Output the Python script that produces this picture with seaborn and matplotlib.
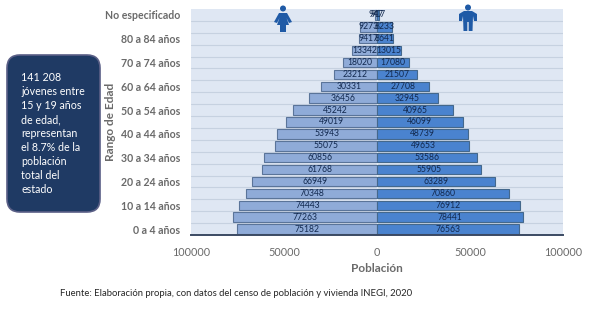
import matplotlib
matplotlib.use('Agg')
import matplotlib.pyplot as plt
from matplotlib.patches import Circle, FancyBboxPatch, Polygon
import numpy as np
import pandas as pd
import seaborn as sns

# top row of the chart first
age_groups = [
    'No especificado', '85 años y más', '80 a 84 años', '75 a 79 años',
    '70 a 74 años', '65 a 69 años', '60 a 64 años', '55 a 59 años',
    '50 a 54 años', '45 a 49 años', '40 a 44 años', '35 a 39 años',
    '30 a 34 años', '25 a 29 años', '20 a 24 años', '15 a 19 años',
    '10 a 14 años', '5 a 9 años', '0 a 4 años',
]
mujeres = [947, 9273, 9417, 13342, 18020, 23212, 30331, 36456, 45242, 49019,
           53943, 55075, 60856, 61768, 66949, 70348, 74443, 77263, 75182]
hombres = [917, 8233, 8641, 13015, 17080, 21507, 27708, 32945, 40965, 46099,
           48739, 49653, 53586, 55905, 63289, 70860, 76912, 78441, 76563]
x_ticks = [-100000, -50000, 0, 50000, 100000]

note_lines = ['141 208', 'jóvenes entre', '15 y 19 años', 'de edad,',
              'representan', 'el 8.7% de la', 'población', 'total del', 'estado']
source = 'Fuente: Elaboración propia, con datos del censo de población y vivienda INEGI, 2020'

W, H = 589, 316
GRAY = '#6a6a6a'
NAVY = '#1f3a64'
ICON = '#1f5aa6'

sns.set_theme(style='white')
plt.rcParams['font.family'] = ['Lato', 'DejaVu Sans']

fig = plt.figure(figsize=(W / 100, H / 100), dpi=100, facecolor='white')
ax = fig.add_axes([191 / W, 1 - 235 / H, 372 / W, 226 / H], facecolor='#dfe7f3')

df = pd.DataFrame({'edad': age_groups, 'mujeres': mujeres, 'hombres': hombres})
df['mujeres_neg'] = -df['mujeres']

# row separators sit behind the bars
for y in np.arange(len(age_groups) - 1) + 0.5:
    ax.axhline(y, color='#c6d1e0', lw=0.8, zorder=0)

sns.barplot(data=df, y='edad', x='mujeres_neg', order=age_groups, color='#8fabd8',
            saturation=1, width=0.8, edgecolor='#5a7499', linewidth=0.8, ax=ax, zorder=2)
sns.barplot(data=df, y='edad', x='hombres', order=age_groups, color='#4a83cf',
            saturation=1, width=0.8, edgecolor='#44688c', linewidth=0.8, ax=ax, zorder=2)

for container, values in zip(ax.containers, [mujeres, hombres]):
    ax.bar_label(container, labels=[str(v) for v in values], label_type='center',
                 fontsize=6.2, color='#12294f', zorder=3)

ax.axvline(0, color='#eef3f9', lw=1.0, zorder=1)
ax.set_xlim(-100000, 100000)
ax.set_ylim(len(age_groups) - 0.5, -0.5)
ax.set_xticks(x_ticks)
ax.set_xticklabels([str(abs(t)) for t in x_ticks], fontsize=7.8, color=GRAY)
ax.set_yticks(range(len(age_groups)))
ax.set_yticklabels([a if i % 2 == 0 else '' for i, a in enumerate(age_groups)],
                   fontsize=7.6, fontweight='bold', color=GRAY)
ax.tick_params(axis='both', length=0)
ax.tick_params(axis='x', pad=9)
ax.tick_params(axis='y', pad=8)
ax.set_xlabel('')
ax.set_ylabel('')
for side in ['top', 'left', 'right']:
    ax.spines[side].set_visible(False)
ax.spines['bottom'].set_color('#3b4a63')
ax.spines['bottom'].set_linewidth(1.4)

# labels placed in figure pixels, the reference is a pasted slide
fig.text(377 / W, 1 - 269 / H, 'Población', ha='center', va='center',
         fontsize=8.5, fontweight='bold', color=GRAY)
fig.text(110 / W, 1 - 122 / H, 'Rango de Edad', rotation=90, ha='center', va='center',
         fontsize=8.5, fontweight='bold', color=GRAY)
fig.text(60 / W, 1 - 293 / H, source, ha='left', va='center', fontsize=6.8, color='#262626')

# full-figure overlay in pixel coordinates for the note box and the icons
ov = fig.add_axes([0, 0, 1, 1], facecolor='none')
ov.set_xlim(0, W)
ov.set_ylim(H, 0)
ov.axis('off')

box = FancyBboxPatch((18, 66), 71, 135, boxstyle='round,pad=11,rounding_size=13',
                     fc=NAVY, ec='#5a5f86', lw=1.2)
ov.add_patch(box)
for i, line in enumerate(note_lines):
    ov.text(21, 77.5 + i * 14.0, line, color='white', fontsize=7.7, ha='left', va='center')

# woman
ov.add_patch(Circle((283, 8.5), 3, fc=ICON, ec='none'))
ov.add_patch(Polygon([(279, 13), (287, 13), (292, 22), (289, 23), (286.5, 18),
                      (289, 25), (286, 25), (286, 32), (280, 32), (280, 25), (277, 25),
                      (279.5, 18), (277, 23), (274, 22)], fc=ICON, ec='none'))
# man
ov.add_patch(Circle((468, 7.5), 3, fc=ICON, ec='none'))
ov.add_patch(Polygon([(464, 11), (472, 11), (477, 14), (477, 21), (474, 21), (473, 16),
                      (472.5, 31), (468.7, 31), (468.7, 22), (467.3, 22),
                      (467.3, 31), (463.5, 31), (463, 16), (462, 21), (459, 21),
                      (459, 14)], fc=ICON, ec='none'))

fig.savefig('out.png', dpi=100)
